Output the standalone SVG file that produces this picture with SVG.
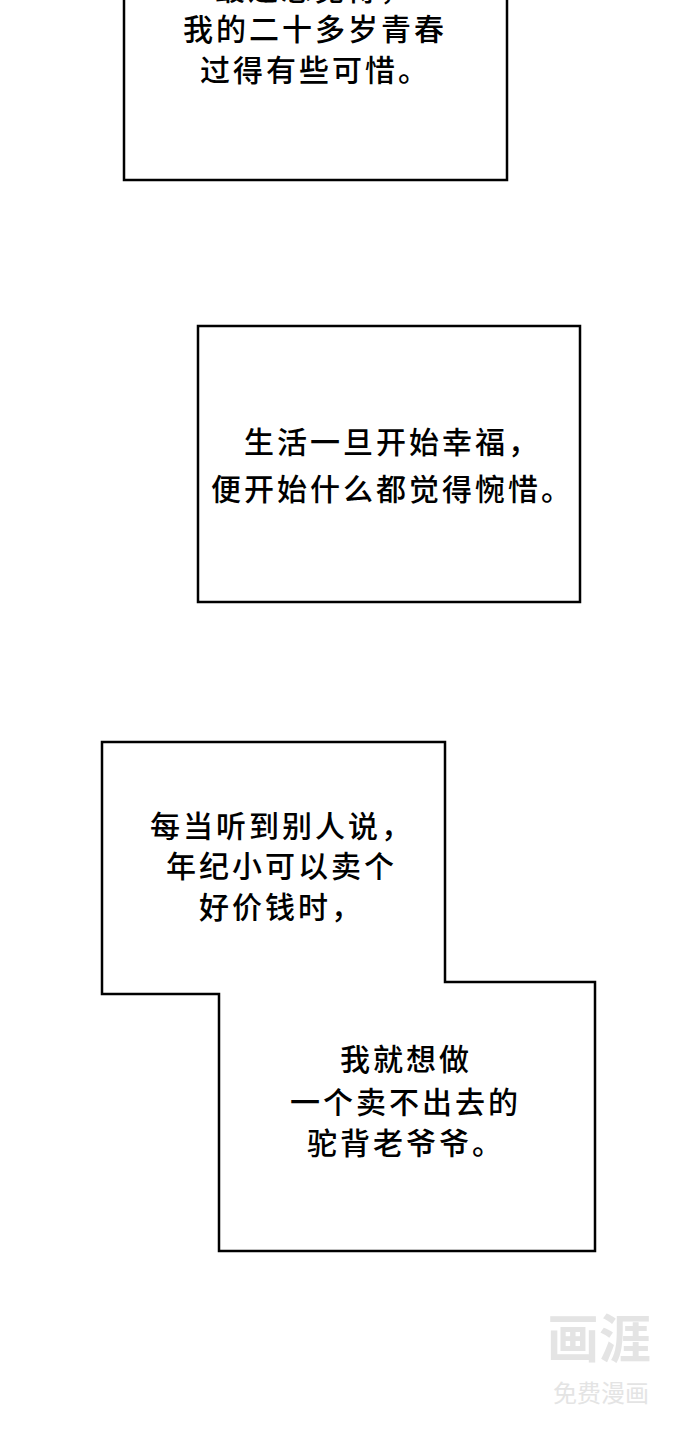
<svg xmlns="http://www.w3.org/2000/svg" width="684" height="1440" viewBox="0 0 684 1440">
<style>
.b{fill:#fff;stroke:#000;stroke-width:2.5}
.t{font-family:"Noto Sans CJK SC",sans-serif;font-size:30px;font-weight:500;fill:#000;letter-spacing:3px}
</style>
<rect width="684" height="1440" fill="#fff"/>
<g id="box1"><rect class="b" x="124" y="-10" width="383" height="190"/>
<text class="t" x="215" y="0">最近总觉得，</text>
<text class="t" x="183" y="40">我的二十多岁青春</text>
<text class="t" x="200" y="81">过得有些可惜。</text></g>
<g id="box2"><rect class="b" x="198" y="326" width="382" height="276"/>
<text class="t" x="244" y="453">生活一旦开始幸福，</text>
<text class="t" x="211" y="500" letter-spacing="1.5">便开始什么都觉得惋惜。</text></g>
<g id="box3"><polygon class="b" points="102,742 445,742 445,982 595,982 595,1251 219,1251 219,994 102,994"/>
<text class="t" x="150" y="837">每当听到别人说，</text>
<text class="t" x="166" y="877">年纪小可以卖个</text>
<text class="t" x="199" y="918">好价钱时，</text>
<text class="t" x="340" y="1070">我就想做</text>
<text class="t" x="290" y="1113">一个卖不出去的</text>
<text class="t" x="307" y="1154">驼背老爷爷。</text></g>
<g id="watermark" fill="#e4e4e4" font-family="Noto Sans CJK SC,sans-serif">
<text x="547" y="1358" font-size="52" font-weight="bold">画涯</text>
<text x="553" y="1402" font-size="24">免费漫画</text></g>
<g id="connectors"/>
</svg>
